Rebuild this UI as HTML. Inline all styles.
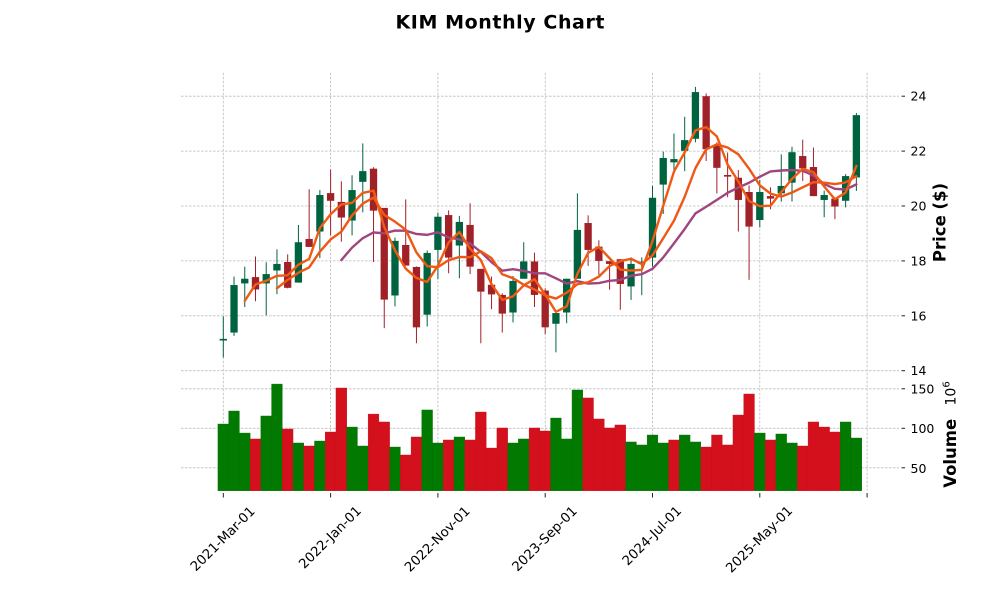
<!DOCTYPE html>
<html><head><meta charset="utf-8"><style>
html,body{margin:0;padding:0;background:#fff;}
svg{display:block;}
text{font-family:"DejaVu Sans","Liberation Sans",sans-serif;fill:#000;}
</style></head><body>
<svg id="c" width="1000" height="600" viewBox="0 0 1000 600" xmlns="http://www.w3.org/2000/svg">
<rect width="1000" height="600" fill="#fff"/>
<g id="grid" stroke="#bdbdbd" stroke-width="0.8" stroke-dasharray="2.6,1.4" fill="none"></g>
<g id="vol"></g>
<g id="cand"></g>
<g id="mav" fill="none" stroke-width="2.4" stroke-linejoin="round" stroke-linecap="round"></g>
<g id="ticks" stroke="#222" stroke-width="1"></g>
<text x="500" y="28.5" text-anchor="middle" font-size="19" font-weight="bold" textLength="209">KIM Monthly Chart</text>
<g font-size="12.5" dominant-baseline="central">
<text x="910.5" y="370.7">14</text>
<text x="910.5" y="315.8">16</text>
<text x="910.5" y="260.9">18</text>
<text x="910.5" y="206">20</text>
<text x="910.5" y="151.1">22</text>
<text x="910.5" y="96.2">24</text>
<text x="910.5" y="468.3">50</text>
<text x="910.5" y="428.3">100</text>
<text x="910.5" y="388.8">150</text>
</g>
<text transform="translate(940,222.5) rotate(-90)" text-anchor="middle" dominant-baseline="central" font-size="16.5" font-weight="bold">Price ($)</text>
<text transform="translate(950.5,453.3) rotate(-90)" text-anchor="middle" dominant-baseline="central" font-size="16.5" font-weight="bold">Volume</text>
<text transform="translate(955.5,405.5) rotate(-90)" font-size="14">10<tspan dy="-6" font-size="10">6</tspan></text>
<g font-size="13.3" text-anchor="middle" dominant-baseline="central">
<text transform="translate(223.3,539.5) rotate(-45)">2021-Mar-01</text>
<text transform="translate(330.6,538) rotate(-45)">2022-Jan-01</text>
<text transform="translate(437.9,539.8) rotate(-45)">2022-Nov-01</text>
<text transform="translate(545.2,539.5) rotate(-45)">2023-Sep-01</text>
<text transform="translate(652.5,536.5) rotate(-45)">2024-Jul-01</text>
<text transform="translate(759.8,540) rotate(-45)">2025-May-01</text>
</g>
</svg>
<script>
(function(){
var NS="http://www.w3.org/2000/svg";
function el(p,t,a){var e=document.createElementNS(NS,t);for(var k in a)e.setAttribute(k,a[k]);p.appendChild(e);return e;}
var D=[
[15.10,15.98,14.48,15.16],[15.39,17.43,15.27,17.12],[17.18,17.79,16.32,17.35],[17.41,18.16,16.53,16.96],
[17.18,17.95,16.02,17.52],[17.65,18.42,16.79,17.89],[17.96,18.24,17.00,17.02],[17.21,19.31,17.21,18.68],
[18.80,20.61,18.51,18.51],[19.07,20.58,18.10,20.40],[20.47,21.33,18.92,20.19],[20.15,20.90,18.70,19.58],
[19.47,21.12,18.93,20.58],[20.88,22.28,19.77,21.27],[21.36,21.41,17.96,19.83],[19.93,19.93,15.55,16.59],
[16.74,18.85,16.34,18.73],[18.58,20.24,17.83,17.83],[17.78,17.80,15.00,15.58],[16.04,18.38,15.61,18.29],
[18.40,19.76,17.33,19.61],[19.67,19.84,17.55,18.12],[18.56,19.64,17.37,19.42],[19.31,20.10,17.52,17.79],
[17.71,17.71,15.00,16.88],[17.13,17.43,16.24,16.78],[16.76,16.82,15.39,16.08],[16.12,17.45,15.76,17.27],
[17.35,18.68,17.35,17.98],[17.98,18.30,16.32,16.76],[16.92,17.00,15.33,15.58],[15.71,16.10,14.67,16.10],
[16.12,17.35,15.73,17.35],[17.35,20.46,17.35,19.13],[19.38,19.66,17.82,18.40],[18.52,18.75,17.49,18.00],
[17.99,17.99,16.95,17.89],[18.06,18.06,16.22,17.16],[17.07,18.13,16.58,17.89],[17.89,18.13,16.75,17.97],
[18.12,20.74,17.79,20.30],[20.78,21.98,19.71,21.75],[21.59,22.64,21.31,21.71],[22.01,23.25,21.27,22.40],
[22.45,24.34,22.32,24.15],[24.00,24.10,21.64,22.07],[22.22,22.32,20.46,21.39],[21.13,21.95,20.32,21.07],
[21.03,21.31,19.07,20.22],[20.51,20.75,17.31,19.25],[19.49,20.95,19.22,20.51],[20.36,20.68,19.88,20.27],
[20.46,21.88,20.16,20.73],[20.85,22.16,20.16,21.96],[21.82,22.42,20.91,21.37],[21.42,22.13,20.36,20.36],
[20.22,20.56,19.59,20.40],[20.27,20.27,19.52,19.98],[20.19,21.16,19.95,21.09],[21.04,23.39,20.55,23.31]];
var V=[105.4,121.9,94,86.5,115.6,156,99.1,81.4,77.6,83.9,95.3,151,101.6,77.6,118,108,76.3,66.2,89,123.2,81.4,85.2,89,85.2,120.6,75,100.4,81.4,86.5,100.4,96.6,113,86.5,148.5,138.4,111.8,100.4,104.2,82.7,78.9,91.5,81.4,85.2,91.5,82.7,76.3,91.5,78.9,116.8,143.4,94,85.2,92.8,81.4,77.6,108,101.6,95.3,108,87.7];
var VC="gggrggrgrgrrggrrgrrggrgrrrrggrrgggrrrrggggrggrrrrrgrggrrrrgg";
function xc(i){return 223.3+10.73*i;}
function yp(p){return 206-(p-20)*27.45;}
function yv(v){return 428.3-(v-100)*0.79;}
var grid=document.getElementById('grid'),vol=document.getElementById('vol'),cand=document.getElementById('cand'),mav=document.getElementById('mav'),ticks=document.getElementById('ticks');
[14,16,18,20,22,24].forEach(function(p){var y=yp(p);el(grid,'line',{x1:181,x2:899,y1:y,y2:y});el(ticks,'line',{x1:901.5,x2:905,y1:y,y2:y});});
[50,100,150].forEach(function(v){var y=yv(v);el(grid,'line',{x1:181,x2:899,y1:y,y2:y});el(ticks,'line',{x1:901.5,x2:905,y1:y,y2:y});});
for(var k=0;k<=6;k++){var x=xc(k*10);el(grid,'line',{x1:x,x2:x,y1:72.7,y2:490.7});el(ticks,'line',{x1:x,x2:x,y1:493,y2:497.5});}
var bot=490.7,w=10.73;
for(var i=0;i<V.length;i++){var y=yv(V[i]);var c=VC[i]=='g'?'#027a02':'#d4101c';
el(vol,'rect',{x:(xc(i)-w/2).toFixed(2),y:y.toFixed(2),width:w,height:(bot-y).toFixed(2),fill:c,stroke:c==='#027a02'?'#026e02':'#c20f1a','stroke-width':0.4});}
for(var i=0;i<D.length;i++){var d=D[i],o=d[0],h=d[1],l=d[2],c=d[3];var up=c>=o;var col=up?'#006340':'#A02128';var x=xc(i);
el(cand,'line',{x1:x,x2:x,y1:yp(h).toFixed(2),y2:yp(l).toFixed(2),stroke:col,'stroke-width':1});
var t=yp(Math.max(o,c)),b=yp(Math.min(o,c));var hh=Math.max(b-t,1.2);
el(cand,'rect',{x:(x-3.65).toFixed(2),y:t.toFixed(2),width:7.3,height:hh.toFixed(2),fill:col});}
function ma(n,col){var pts=[];for(var i=n-1;i<D.length;i++){var s=0;for(var j=i-n+1;j<=i;j++)s+=D[j][3];pts.push(xc(i).toFixed(2)+','+yp(s/n).toFixed(2));}
el(mav,'polyline',{points:pts.join(' '),stroke:col});}
ma(12,'#a0457e');ma(6,'#ef5714');ma(3,'#f05a12');
})();
</script>
</body></html>
